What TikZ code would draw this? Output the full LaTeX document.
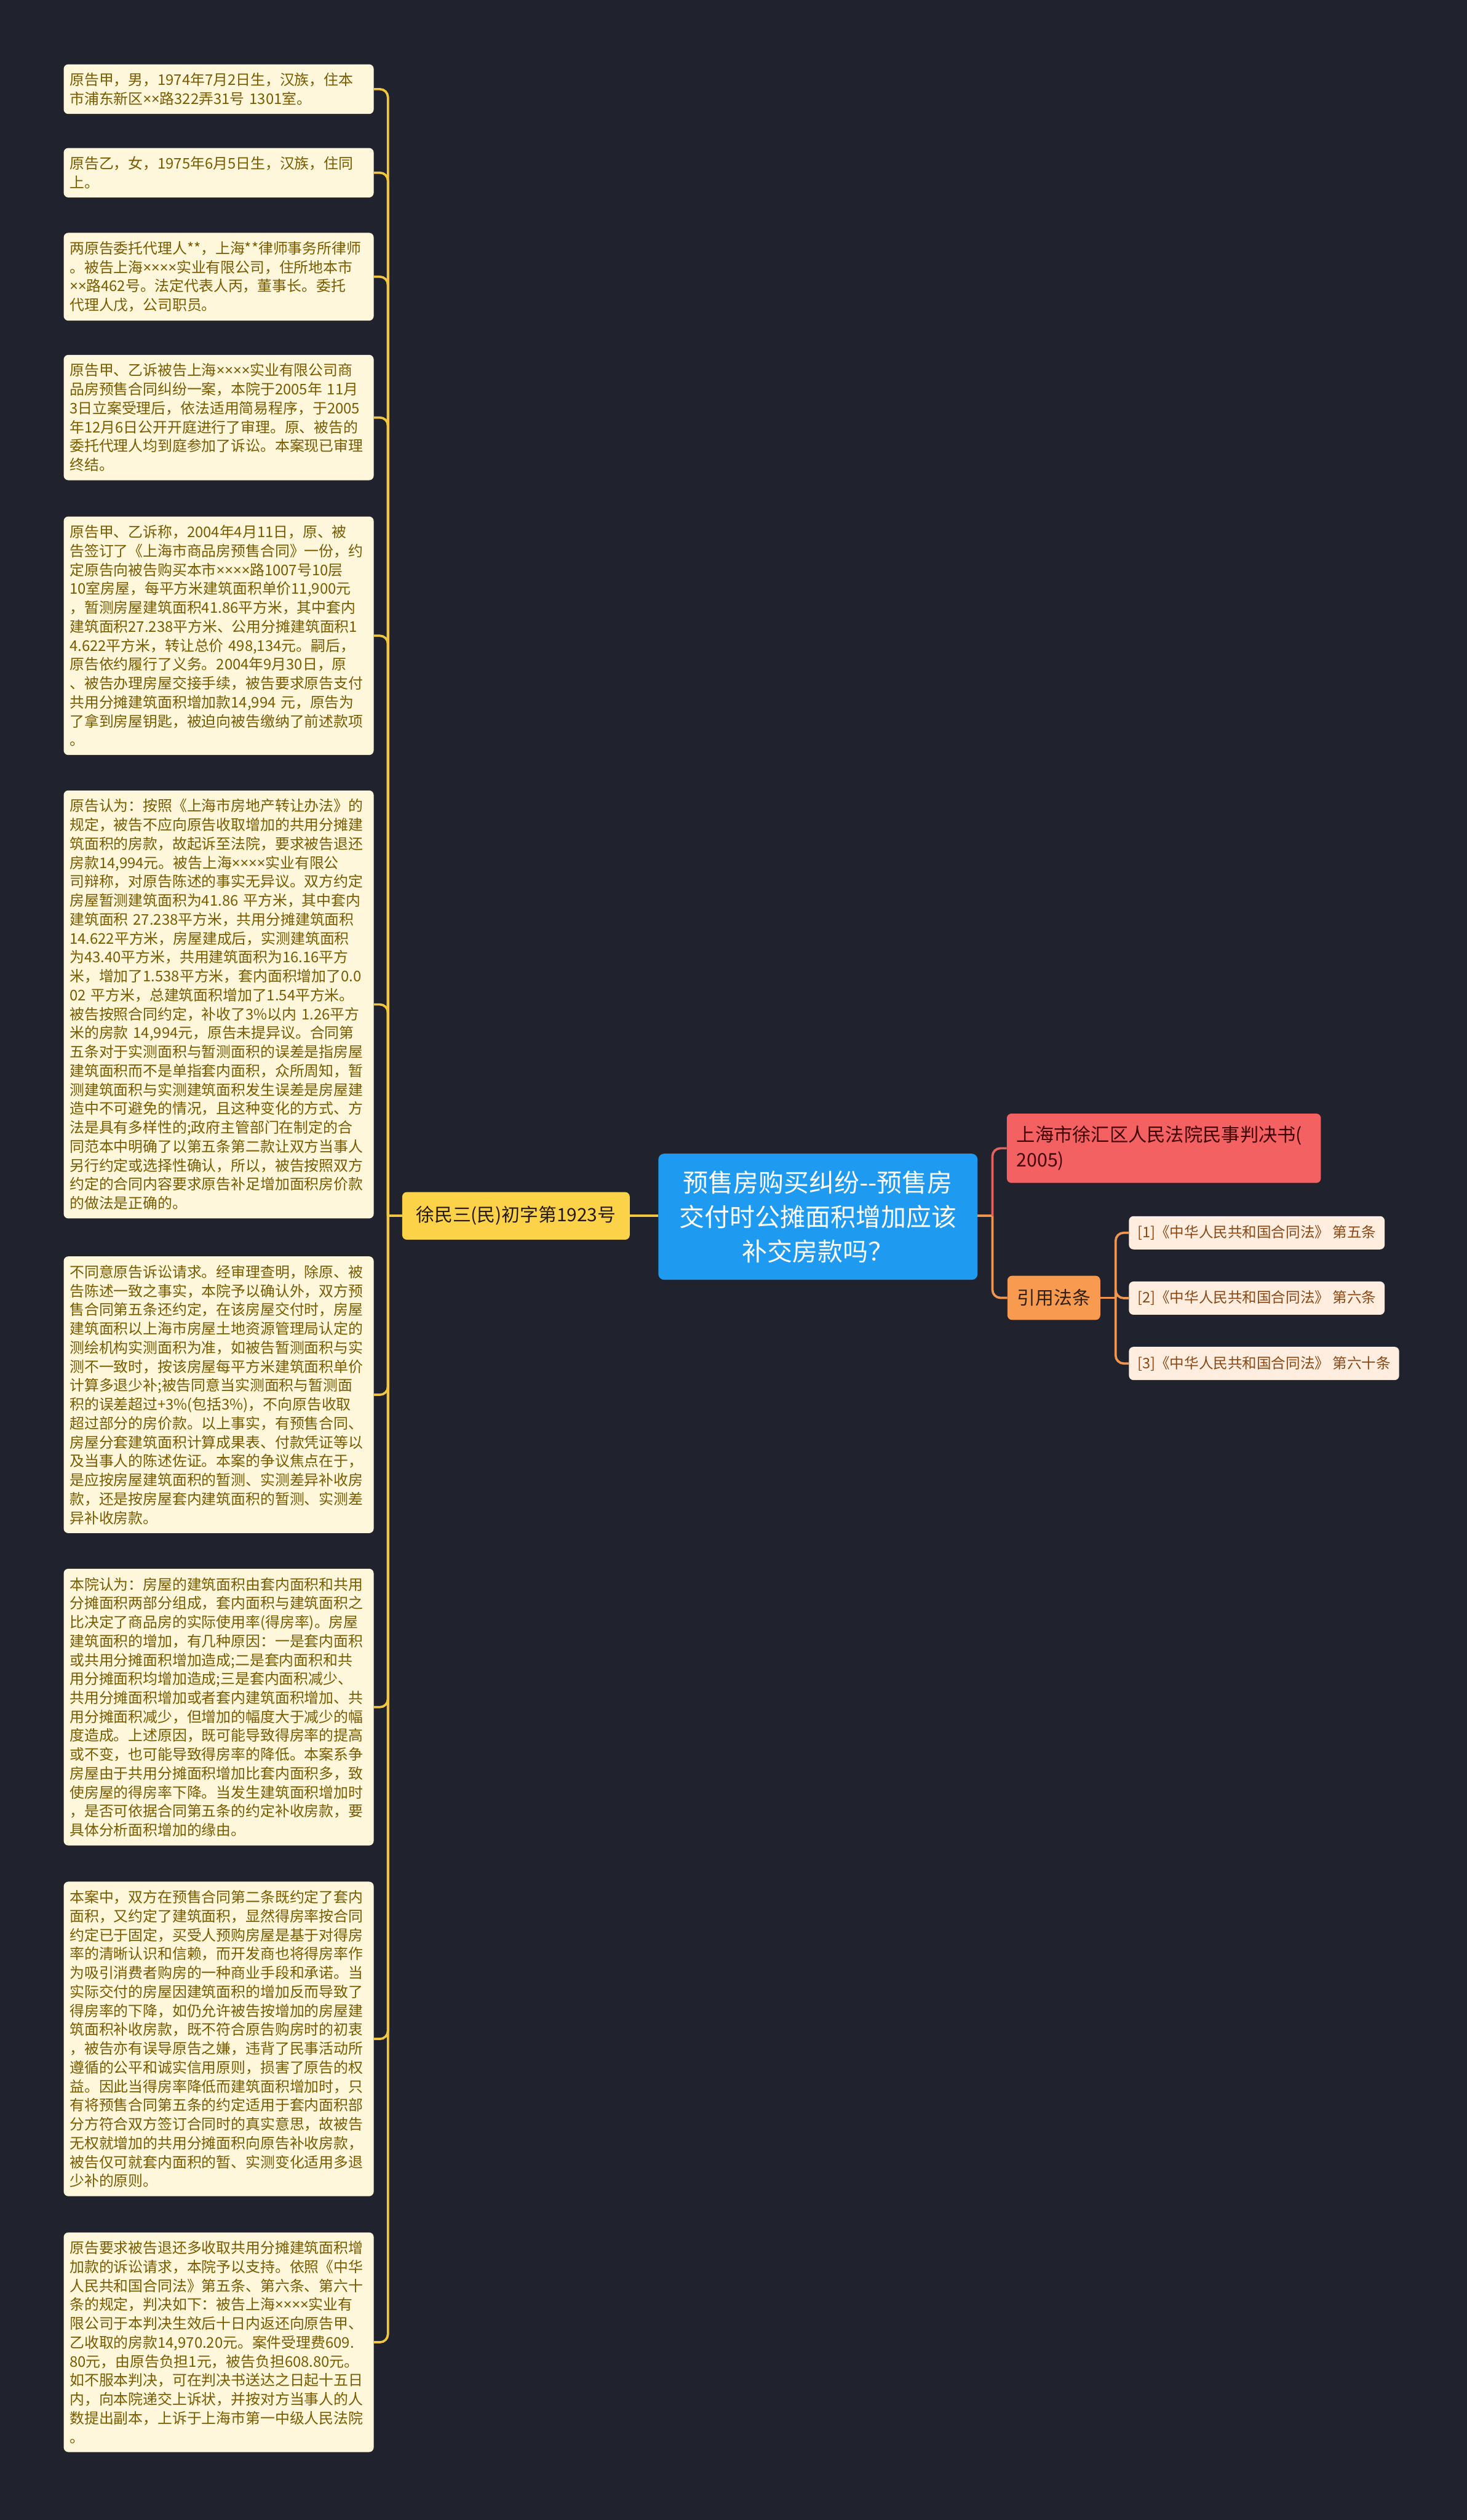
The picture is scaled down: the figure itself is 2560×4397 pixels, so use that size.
\documentclass[tikz,border=0pt]{standalone}
\usepackage{fontspec}
\setmainfont{Noto Sans CJK SC}
\newfontfamily\latfont{Noto Sans}
\newcommand\mt{{\latfont ×}}
\definecolor{bg}{HTML}{20232E}
\definecolor{cream}{HTML}{FFF7DC}
\definecolor{leaftext}{HTML}{7A5B00}
\definecolor{gold}{HTML}{F2C63E}
\definecolor{goldnode}{HTML}{FCD348}
\definecolor{bluenode}{HTML}{1E9AF0}
\definecolor{rednode}{HTML}{F46163}
\definecolor{redline}{HTML}{E8605E}
\definecolor{orangenode}{HTML}{F89A50}
\definecolor{orangeline}{HTML}{F0964E}
\definecolor{lawfill}{HTML}{FFEEE0}
\definecolor{lawtext}{HTML}{8A4814}
\begin{document}
\begin{tikzpicture}[x=1pt,y=-1pt,
  leaf/.style={fill=cream, rounded corners=8pt, text=leaftext, anchor=north west,
    align=left, text width=520pt, inner xsep=10.5pt, inner ysep=15pt,
    font=\fontsize{25.6}{33}\selectfont},
  lline/.style={draw=gold, line width=4pt, rounded corners=14pt},
  rline/.style={draw=redline, line width=4pt, rounded corners=14pt},
  oline/.style={draw=orangeline, line width=4pt, rounded corners=14pt},
  law/.style={fill=lawfill, rounded corners=8pt, text=lawtext, anchor=west,
    minimum height=58pt, inner xsep=15pt, font=\fontsize{25.3}{30}\selectfont}
]
\fill[bg] (0,0) rectangle (2560,4397);
\useasboundingbox (0,0) rectangle (2560,4397);

% root and main nodes
\node[fill=bluenode, rounded corners=10pt, text=white, align=center,
  minimum width=557pt, minimum height=220pt, inner sep=0pt,
  font=\fontsize{44}{60}\selectfont] (root) at (1427.5,2123)
  {预售房购买纠纷-\kern0pt-预售房\\交付时公摊面积增加应该\\补交房款吗？};
\node[fill=goldnode, rounded corners=8pt, text=black!80!brown,
  minimum width=397pt, minimum height=83pt, inner sep=0pt,
  font=\fontsize{32}{40}\selectfont] (case) at (900.5,2121.5)
  {徐民三(民)初字第1923号};
\node[fill=rednode, rounded corners=8pt, text=black!75!red, anchor=west,
  align=left, text width=514pt, inner xsep=17pt, minimum height=121pt,
  font=\fontsize{32.5}{44}\selectfont] (court) at (1757,2003.5)
  {上海市徐汇区人民法院民事判决书(\\2005)};
\node[fill=orangenode, rounded corners=8pt, text=black!75!brown, anchor=west,
  inner xsep=17pt, minimum height=77pt,
  font=\fontsize{32}{40}\selectfont] (cite) at (1758,2264.5) {引用法条};
\node[law] (law1) at (1970,2151) {[1]《中华人民共和国合同法》 第五条};
\node[law] (law2) at (1970,2265) {[2]《中华人民共和国合同法》 第六条};
\node[law] (law3) at (1970,2379) {[3]《中华人民共和国合同法》 第六十条};

% left leaves
\node[leaf] (b1) at (111,112) {原告甲，男，1974年7月2日生，汉族，住本\\市浦东新区\mt\mt 路322弄31号 1301室。};
\node[leaf] (b2) at (111,258) {原告乙，女，1975年6月5日生，汉族，住同\\上。};
\node[leaf] (b3) at (111,406) {两原告委托代理人**，上海**律师事务所律师\\。被告上海\mt\mt\mt\mt 实业有限公司，住所地本市\\\mt\mt 路462号。法定代表人丙，董事长。委托\\代理人戊，公司职员。};
\node[leaf] (b4) at (111,619) {原告甲、乙诉被告上海\mt\mt\mt\mt 实业有限公司商\\品房预售合同纠纷一案，本院于2005年 11月\\3日立案受理后，依法适用简易程序，于2005\\年12月6日公开开庭进行了审理。原、被告的\\委托代理人均到庭参加了诉讼。本案现已审理\\终结。};
\node[leaf] (b5) at (111,901) {原告甲、乙诉称，2004年4月11日，原、被\\告签订了《上海市商品房预售合同》一份，约\\定原告向被告购买本市\mt\mt\mt\mt 路1007号10层\\10室房屋，每平方米建筑面积单价11,900元\\，暂测房屋建筑面积41.86平方米，其中套内\\建筑面积27.238平方米、公用分摊建筑面积1\\4.622平方米，转让总价 498,134元。嗣后，\\原告依约履行了义务。2004年9月30日，原\\、被告办理房屋交接手续，被告要求原告支付\\共用分摊建筑面积增加款14,994 元，原告为\\了拿到房屋钥匙，被迫向被告缴纳了前述款项\\。};
\node[leaf] (b6) at (111,1379) {原告认为：按照《上海市房地产转让办法》的\\规定，被告不应向原告收取增加的共用分摊建\\筑面积的房款，故起诉至法院，要求被告退还\\房款14,994元。被告上海\mt\mt\mt\mt 实业有限公\\司辩称，对原告陈述的事实无异议。双方约定\\房屋暂测建筑面积为41.86 平方米，其中套内\\建筑面积 27.238平方米，共用分摊建筑面积\\14.622平方米，房屋建成后，实测建筑面积\\为43.40平方米，共用建筑面积为16.16平方\\米，增加了1.538平方米，套内面积增加了0.0\\02 平方米，总建筑面积增加了1.54平方米。\\被告按照合同约定，补收了3\%以内 1.26平方\\米的房款 14,994元，原告未提异议。合同第\\五条对于实测面积与暂测面积的误差是指房屋\\建筑面积而不是单指套内面积，众所周知，暂\\测建筑面积与实测建筑面积发生误差是房屋建\\造中不可避免的情况，且这种变化的方式、方\\法是具有多样性的;政府主管部门在制定的合\\同范本中明确了以第五条第二款让双方当事人\\另行约定或选择性确认，所以，被告按照双方\\约定的合同内容要求原告补足增加面积房价款\\的做法是正确的。};
\node[leaf] (b7) at (111,2192) {不同意原告诉讼请求。经审理查明，除原、被\\告陈述一致之事实，本院予以确认外，双方预\\售合同第五条还约定，在该房屋交付时，房屋\\建筑面积以上海市房屋土地资源管理局认定的\\测绘机构实测面积为准，如被告暂测面积与实\\测不一致时，按该房屋每平方米建筑面积单价\\计算多退少补;被告同意当实测面积与暂测面\\积的误差超过+3\%(包括3\%)，不向原告收取\\超过部分的房价款。以上事实，有预售合同、\\房屋分套建筑面积计算成果表、付款凭证等以\\及当事人的陈述佐证。本案的争议焦点在于，\\是应按房屋建筑面积的暂测、实测差异补收房\\款，还是按房屋套内建筑面积的暂测、实测差\\异补收房款。};
\node[leaf] (b8) at (111,2737) {本院认为：房屋的建筑面积由套内面积和共用\\分摊面积两部分组成，套内面积与建筑面积之\\比决定了商品房的实际使用率(得房率)。房屋\\建筑面积的增加，有几种原因：一是套内面积\\或共用分摊面积增加造成;二是套内面积和共\\用分摊面积均增加造成;三是套内面积减少、\\共用分摊面积增加或者套内建筑面积增加、共\\用分摊面积减少，但增加的幅度大于减少的幅\\度造成。上述原因，既可能导致得房率的提高\\或不变，也可能导致得房率的降低。本案系争\\房屋由于共用分摊面积增加比套内面积多，致\\使房屋的得房率下降。当发生建筑面积增加时\\，是否可依据合同第五条的约定补收房款，要\\具体分析面积增加的缘由。};
\node[leaf] (b9) at (111,3283) {本案中，双方在预售合同第二条既约定了套内\\面积，又约定了建筑面积，显然得房率按合同\\约定已于固定，买受人预购房屋是基于对得房\\率的清晰认识和信赖，而开发商也将得房率作\\为吸引消费者购房的一种商业手段和承诺。当\\实际交付的房屋因建筑面积的增加反而导致了\\得房率的下降，如仍允许被告按增加的房屋建\\筑面积补收房款，既不符合原告购房时的初衷\\，被告亦有误导原告之嫌，违背了民事活动所\\遵循的公平和诚实信用原则，损害了原告的权\\益。因此当得房率降低而建筑面积增加时，只\\有将预售合同第五条的约定适用于套内面积部\\分方符合双方签订合同时的真实意思，故被告\\无权就增加的共用分摊面积向原告补收房款，\\被告仅可就套内面积的暂、实测变化适用多退\\少补的原则。};
\node[leaf] (b10) at (111,3895) {原告要求被告退还多收取共用分摊建筑面积增\\加款的诉讼请求，本院予以支持。依照《中华\\人民共和国合同法》第五条、第六条、第六十\\条的规定，判决如下：被告上海\mt\mt\mt\mt 实业有\\限公司于本判决生效后十日内返还向原告甲、\\乙收取的房款14,970.20元。案件受理费609.\\80元，由原告负担1元，被告负担608.80元。\\如不服本判决，可在判决书送达之日起十五日\\内，向本院递交上诉状，并按对方当事人的人\\数提出副本，上诉于上海市第一中级人民法院\\。};

% junctions
\coordinate (jL) at (677,2121.5);
\coordinate (jR) at (1732,2121.5);
\coordinate (jO) at (1947,2264.5);

% connectors
\draw[lline] (root.west |- case.east) -- (case.east);
\draw[lline] (case.west) -- (jL);
\foreach \b in {b1,b2,b3,b4,b5,b6,b7,b8,b9,b10}
  \draw[lline] (jL) |- (\b.east);
\draw[oline] (root.east |- jR) -- (jR);
\draw[rline] (jR) |- (court.west);
\draw[oline] (jR) |- (cite.west);
\draw[oline] (cite.east) -- (jO);
\foreach \l in {law1,law2,law3}
  \draw[oline] (jO) |- (\l.west);
\end{tikzpicture}
\end{document}
